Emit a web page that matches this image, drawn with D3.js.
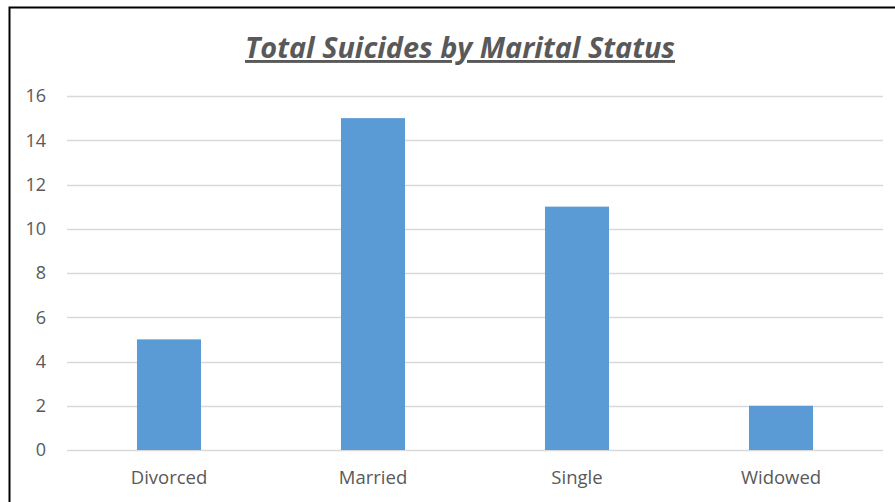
<!DOCTYPE html>
<html><head><meta charset="utf-8">
<script src="https://cdn.jsdelivr.net/npm/d3@7"></script>
<style>body{margin:0;background:#fff}svg{display:block}</style>
</head><body>
<script>
const categories = ["Divorced", "Married", "Single", "Widowed"];
const values = [5, 15, 11, 2];
const yTicks = [0, 2, 4, 6, 8, 10, 12, 14, 16];
const title = "Total Suicides by Marital Status";

(function () {
const W = 895, H = 502;
const svg = d3.select("body").append("svg").attr("width", W).attr("height", H);
svg.append("rect").attr("x", 9.5).attr("y", 7.5).attr("width", W + 10).attr("height", H + 10)
  .attr("fill", "#fff").attr("stroke", "#000").attr("stroke-width", 2);

const pL = 67, pR = 883, pT = 96, pB = 450;
const x = d3.scaleBand().domain(categories).range([pL, pR]).paddingInner(0.686).paddingOuter(0.343);
const y = d3.scaleLinear().domain([0, 16]).range([pB, pT]);

const font = "'Open Sans', 'Liberation Sans', sans-serif";
svg.append("g").selectAll("line").data(yTicks).join("line")
  .attr("x1", pL).attr("x2", pR)
  .attr("y1", d => Math.round(y(d)) + 0.5).attr("y2", d => Math.round(y(d)) + 0.5)
  .attr("stroke", "#d9d9d9").attr("stroke-width", 1.5);

svg.append("g").selectAll("rect").data(values).join("rect")
  .attr("x", (d, i) => x(categories[i])).attr("width", x.bandwidth())
  .attr("y", d => y(d)).attr("height", d => pB - y(d))
  .attr("fill", "#5b9bd5");

svg.append("g").selectAll("text").data(yTicks).join("text")
  .attr("x", 46).attr("y", d => y(d)).attr("dy", "0.36em")
  .attr("text-anchor", "end").attr("font-family", font).attr("font-size", 18)
  .attr("fill", "#595959").text(d => d);

svg.append("g").selectAll("text").data(categories).join("text")
  .attr("x", d => x(d) + x.bandwidth() / 2).attr("y", 484)
  .attr("text-anchor", "middle").attr("font-family", font).attr("font-size", 18.5)
  .attr("fill", "#595959").text(d => d);

svg.append("text").attr("x", 460).attr("y", 58).attr("text-anchor", "middle")
  .attr("font-family", font).attr("font-size", 29).attr("font-weight", "bold")
  .attr("font-style", "italic").attr("text-decoration", "underline")
  .attr("fill", "#595959").attr("textLength", 430).attr("lengthAdjust", "spacingAndGlyphs").text(title);
})();
</script>
</body></html>
